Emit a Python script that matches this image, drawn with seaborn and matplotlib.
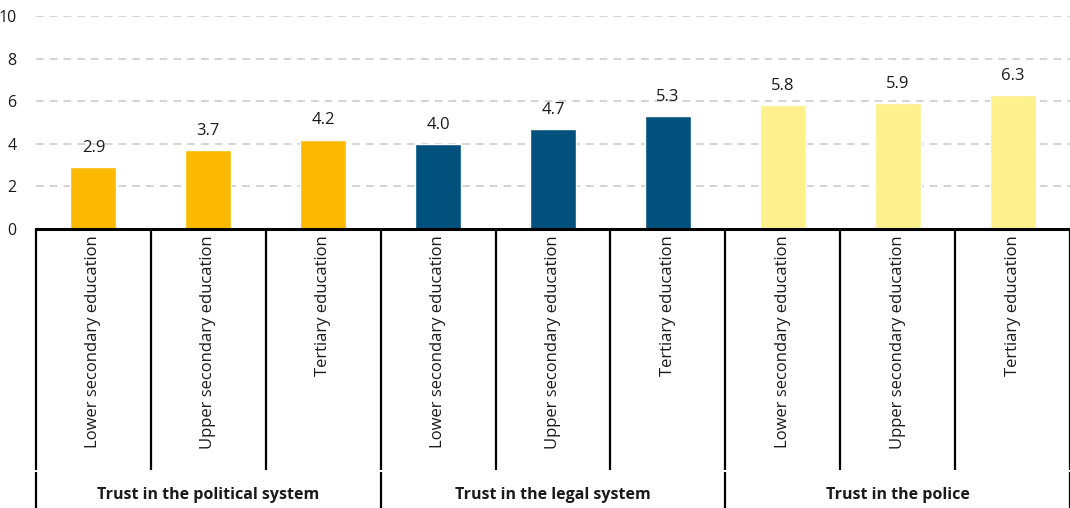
import matplotlib
matplotlib.use("Agg")
import matplotlib.pyplot as plt
import seaborn as sns
import pandas as pd

categories = ["Lower secondary education", "Upper secondary education", "Tertiary education"] * 3
groups = ["Trust in the political system"] * 3 + ["Trust in the legal system"] * 3 + ["Trust in the police"] * 3
group_names = ["Trust in the political system", "Trust in the legal system", "Trust in the police"]
values = [2.9, 3.7, 4.2, 4.0, 4.7, 5.3, 5.8, 5.9, 6.3]
colors = ["#FBB900", "#00527C", "#FEF08D"]
yticks = [0, 2, 4, 6, 8, 10]

sns.set_theme(style="white")
plt.rcParams["font.family"] = ["Open Sans", "DejaVu Sans"]

df = pd.DataFrame({
    "key": [f"{g}|{c}" for g, c in zip(groups, categories)],
    "value": values,
    "group": groups,
})

fig = plt.figure(figsize=(10.7, 5.08), dpi=100)
ax = fig.add_axes([36 / 1070, 1 - 229 / 508, 1 - 36 / 1070, (229 - 16) / 508])

sns.barplot(data=df, x="key", y="value", hue="group", hue_order=group_names,
            palette=colors, dodge=False, width=0.4, legend=False, ax=ax,
            saturation=1)

ax.set_ylim(0, 10)
ax.set_xlim(-0.5, len(values) - 0.5)
ax.set_yticks(yticks)
ax.set_yticklabels([str(t) for t in yticks], fontsize=11.5, color="#1a1a1a")
ax.set_xticks([])
ax.set_xlabel("")
ax.set_ylabel("")
ax.tick_params(axis="y", length=0, pad=14)
for t in yticks[1:]:
    ax.axhline(t, color="#c8c8c8", lw=1.1, ls=(0, (5, 4)), zorder=0)
for s in ["left", "right", "top"]:
    ax.spines[s].set_visible(False)
ax.spines["bottom"].set_color("black")
ax.spines["bottom"].set_linewidth(2.2)

for i, v in enumerate(values):
    ax.annotate(f"{v:.1f}", (i, v), xytext=(0, 8), textcoords="offset points",
                ha="center", va="bottom", fontsize=12, color="#1a1a1a")

tr = ax.get_xaxis_transform()
for i in range(len(values) + 1):
    x = i - 0.5
    ax.plot([x, x], [0, -1.131], transform=tr, color="black", lw=1.6, clip_on=False,
            solid_capstyle="butt")
for i, c in enumerate(categories):
    ax.text(i, -0.030, c, transform=tr, rotation=90, ha="center", va="top",
            fontsize=12, color="#1a1a1a")
for gi, g in enumerate(group_names):
    x0 = gi * 3 - 0.5
    ax.plot([x0, x0], [-1.141, -1.40], transform=tr, color="black", lw=1.6,
            clip_on=False, solid_capstyle="butt")
    ax.text(gi * 3 + 1, -1.249, g, transform=tr, ha="center", va="center",
            fontsize=11.5, fontweight="bold", color="#1a1a1a")
ax.plot([8.5, 8.5], [-1.141, -1.40], transform=tr, color="black", lw=1.6,
        clip_on=False, solid_capstyle="butt")

fig.savefig("out.png", dpi=100)
